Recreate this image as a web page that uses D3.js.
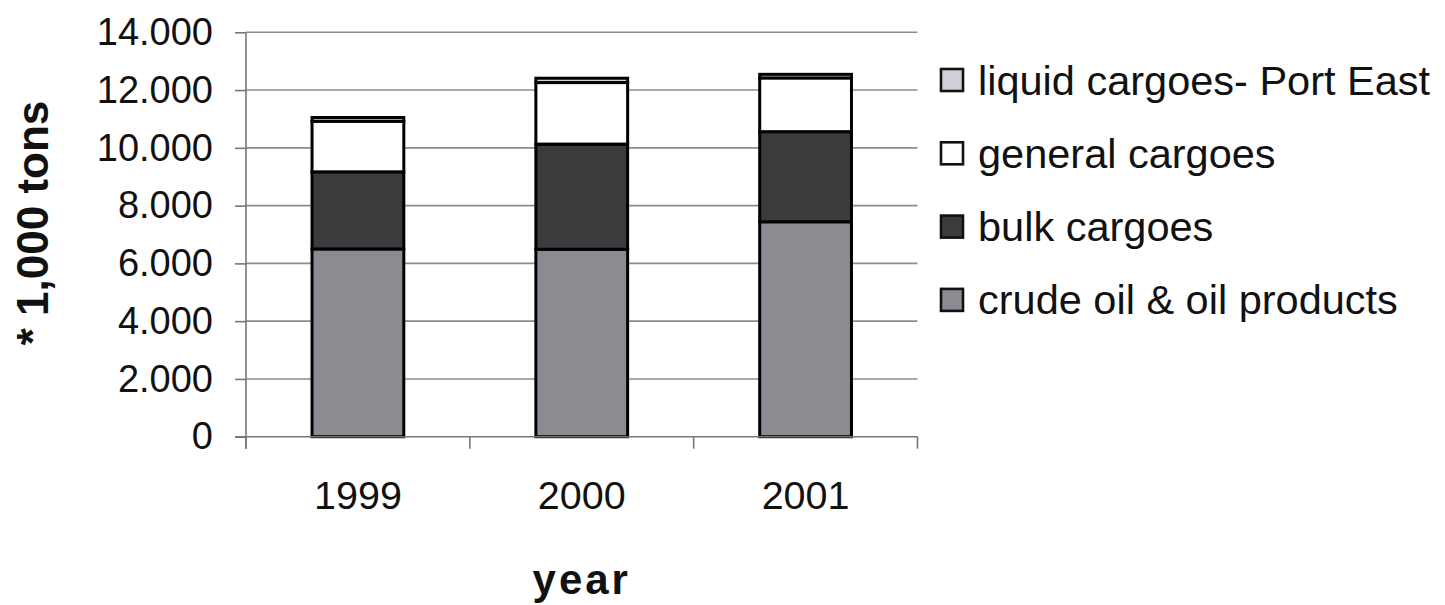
<!DOCTYPE html>
<html>
<head>
<meta charset="utf-8">
<script src="https://cdn.jsdelivr.net/npm/d3@7"></script>
<style>
  html, body { margin: 0; padding: 0; background: #fff; }
  svg { display: block; font-family: "Liberation Sans", Arial, sans-serif; }
</style>
</head>
<body>
<svg id="chart" width="1445" height="605"></svg>
<script>
// Port throughput per year, in thousands of tons
const years = ["1999", "2000", "2001"];
const crudeOil = [6500, 6490, 7440];
const bulkCargoes = [2670, 3640, 3120];
const generalCargoes = [1750, 2130, 1860];
const liquidPortEast = [130, 150, 125];

const seriesNames = ["crude oil & oil products", "bulk cargoes", "general cargoes", "liquid cargoes- Port East"];
const seriesColors = ["#8d8b91", "#3b3a3d", "#ffffff", "#d3cfd8"];
const yTicks = [0, 2000, 4000, 6000, 8000, 10000, 12000, 14000];

const svg = d3.select("#chart");
const plot = { left: 246, right: 917.5, top: 32.3, bottom: 436.7 };

const rows = years.map((y, i) => ({
  year: y,
  [seriesNames[0]]: crudeOil[i],
  [seriesNames[1]]: bulkCargoes[i],
  [seriesNames[2]]: generalCargoes[i],
  [seriesNames[3]]: liquidPortEast[i]
}));
const stacked = d3.stack().keys(seriesNames)(rows);

const x = d3.scaleBand().domain(years).range([plot.left, plot.right])
  .paddingInner(0.59).paddingOuter(0.295);
const y = d3.scaleLinear().domain([0, 14000]).range([plot.bottom, plot.top]);

const fmt = d3.formatLocale({ decimal: ",", thousands: ".", grouping: [3], currency: ["", ""] }).format(",");

// horizontal gridlines
svg.append("g").selectAll("line").data(yTicks.filter(d => d > 0)).join("line")
  .attr("x1", plot.left).attr("x2", plot.right)
  .attr("y1", d => y(d)).attr("y2", d => y(d))
  .attr("stroke", "#8c8c8c").attr("stroke-width", 1.6);

// stacked bars
svg.append("g").selectAll("g").data(stacked).join("g")
  .attr("fill", (d, i) => seriesColors[i])
  .selectAll("rect").data(d => d).join("rect")
  .attr("x", d => x(d.data.year))
  .attr("width", x.bandwidth())
  .attr("y", d => y(d[1]))
  .attr("height", d => y(d[0]) - y(d[1]))
  .attr("stroke", "#000").attr("stroke-width", 3);

// y axis
const yAxis = svg.append("g").attr("transform", `translate(${plot.left},0)`)
  .call(d3.axisLeft(y).tickValues(yTicks).tickFormat(fmt).tickSize(11).tickPadding(22));
yAxis.select(".domain").attr("stroke", "#777").attr("stroke-width", 1.6)
  .attr("d", `M0,${plot.top}V${plot.bottom + 12}`);
yAxis.selectAll(".tick line").attr("stroke", "#777").attr("stroke-width", 1.6);
yAxis.selectAll(".tick text").attr("font-size", 38).attr("fill", "#111")
  .attr("font-family", "Liberation Sans, Arial, sans-serif");

// x axis: labels under each bar, tick marks on category boundaries
const xAxis = svg.append("g").attr("transform", `translate(0,${plot.bottom})`)
  .call(d3.axisBottom(x).tickSize(0).tickPadding(44));
xAxis.select(".domain").attr("stroke", "#777").attr("stroke-width", 1.6)
  .attr("d", `M${plot.left - 11},0H${plot.right}`);
xAxis.selectAll(".tick text").attr("font-size", 39.5).attr("fill", "#111")
  .attr("font-family", "Liberation Sans, Arial, sans-serif");
const bounds = d3.range(years.length + 1).map(i => plot.left + i * x.step());
xAxis.append("g").selectAll("line").data(bounds).join("line")
  .attr("x1", d => d).attr("x2", d => d).attr("y1", 0).attr("y2", 12)
  .attr("stroke", "#777").attr("stroke-width", 1.6);

// axis titles
svg.append("text")
  .attr("transform", "translate(48,223) rotate(-90)")
  .attr("text-anchor", "middle").attr("font-weight", "bold").attr("font-size", 44)
  .attr("fill", "#111").text("* 1,000 tons");
svg.append("text")
  .attr("x", (plot.left + plot.right) / 2).attr("y", 594)
  .attr("text-anchor", "middle").attr("font-weight", "bold").attr("font-size", 42)
  .attr("letter-spacing", 3).attr("fill", "#111").text("year");

// legend, top entry is the top of the stack
const legendItems = seriesNames.map((n, i) => ({ name: n, color: seriesColors[i] })).reverse();
const legend = svg.append("g").selectAll("g").data(legendItems).join("g")
  .attr("transform", (d, i) => `translate(940,${80 + i * 73.3})`);
legend.append("rect")
  .attr("x", 1).attr("y", -11).attr("width", 22).attr("height", 22)
  .attr("fill", d => d.color).attr("stroke", "#111").attr("stroke-width", 2.6);
legend.append("text")
  .attr("x", 38).attr("dy", "0.35em").attr("font-size", 41.5).attr("fill", "#111")
  .text(d => d.name);
</script>
</body>
</html>
